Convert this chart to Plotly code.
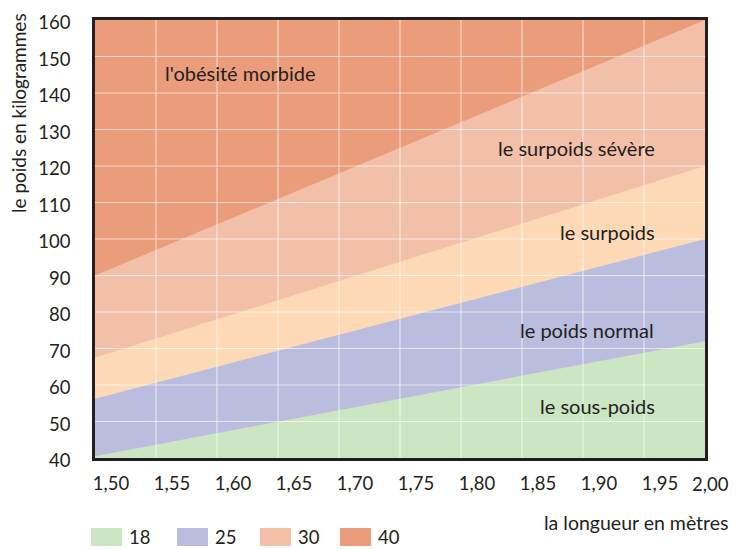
import plotly.graph_objects as go

# Data (straight boundary lines between heights 1.50 and 2.00 m)
heights = [1.50, 2.00]
bmi18 = [40.5, 72.0]
bmi25 = [56.25, 100.0]
bmi30 = [67.5, 120.0]
bmi40 = [90.0, 160.0]

x_ticks = [1.50, 1.55, 1.60, 1.65, 1.70, 1.75, 1.80, 1.85, 1.90, 1.95, 2.00]
x_ticktext = ["1,50", "1,55", "1,60", "1,65", "1,70", "1,75", "1,80", "1,85", "1,90", "1,95", "2,00"]
y_ticks = [40, 50, 60, 70, 80, 90, 100, 110, 120, 130, 140, 150, 160]

zone_labels = ["l'obésité morbide", "le surpoids sévère", "le surpoids", "le poids normal", "le sous-poids"]
zone_x = [1.619, 1.895, 1.92, 1.903, 1.912]
zone_y = [145.5, 124.9, 101.9, 75.1, 54.2]

legend_labels = ["18", "25", "30", "40"]

C_GREEN = "#cce5c3"
C_BLUE = "#babddd"
C_PEACH = "#fddab5"
C_LSALMON = "#f2c0a8"
C_DSALMON = "#eb9c7b"
TXT = "#231f20"
FONT = "Lato"
FS = 20
TFS = 18.5

# page body has an 8px margin: size the figure so the plot lands where the reference has it
OFF = 8
W, H = 740 - OFF, 549 - OFF
ml, mr, mt, mb = 95 - OFF, 35, 20 - OFF, 91
pw, ph = W - ml - mr, H - mt - mb


def px2paper_x(px):
    return (px - OFF - ml) / pw


def px2paper_y(py):
    return (H - mb - (py - OFF)) / ph


fig = go.Figure()
for y, c in [(bmi40, C_LSALMON), (bmi30, C_PEACH), (bmi25, C_BLUE), (bmi18, C_GREEN)]:
    fig.add_trace(go.Scatter(x=heights, y=y, mode="lines", line=dict(width=0, color=c),
                             fill="tozeroy", fillcolor=c, showlegend=False, hoverinfo="skip"))

shapes = []
for xv in x_ticks[1:-1]:
    shapes.append(dict(type="line", xref="x", yref="y", x0=xv, x1=xv, y0=y_ticks[0], y1=y_ticks[-1],
                       line=dict(color="rgba(255,255,255,0.6)", width=1.2), layer="above"))
for yv in y_ticks[1:-1]:
    shapes.append(dict(type="line", xref="x", yref="y", x0=x_ticks[0], x1=x_ticks[-1], y0=yv, y1=yv,
                       line=dict(color="rgba(255,255,255,0.6)", width=1.2), layer="above"))

annotations = []
for t, xv, yv in zip(zone_labels, zone_x, zone_y):
    annotations.append(dict(x=xv, y=yv, xref="x", yref="y", text=t, showarrow=False,
                            font=dict(family=FONT, size=FS, color=TXT)))

# last x tick label drawn as an annotation so it stays inside the page's visible width
annotations.append(dict(x=x_ticks[-1], xref="x", y=px2paper_y(484), yref="paper",
                        text=x_ticktext[-1], showarrow=False, xanchor="right", yanchor="middle",
                        xshift=26, font=dict(family=FONT, size=TFS, color=TXT)))

# legend (custom boxes)
leg_colors = [C_GREEN, C_BLUE, C_LSALMON, C_DSALMON]
leg_x0 = [91, 177, 260, 340]
for lab, c, x0 in zip(legend_labels, leg_colors, leg_x0):
    shapes.append(dict(type="rect", xref="paper", yref="paper",
                       x0=px2paper_x(x0), x1=px2paper_x(x0 + 31),
                       y0=px2paper_y(546), y1=px2paper_y(528),
                       fillcolor=c, line=dict(width=0)))
    annotations.append(dict(xref="paper", yref="paper", x=px2paper_x(x0 + 36), y=px2paper_y(537),
                            xanchor="left", yanchor="middle", text=lab, showarrow=False,
                            font=dict(family=FONT, size=TFS, color=TXT)))

annotations.append(dict(xref="paper", yref="paper", x=px2paper_x(731), y=px2paper_y(522),
                        xanchor="right", yanchor="middle", text="la longueur en mètres", showarrow=False,
                        font=dict(family=FONT, size=19.5, color=TXT)))
annotations.append(dict(xref="paper", yref="paper", x=px2paper_x(19), y=px2paper_y(113),
                        xanchor="center", yanchor="middle", text="le poids en kilogrammes", showarrow=False,
                        textangle=-90, font=dict(family=FONT, size=19, color=TXT)))

fig.update_layout(
    width=W, height=H,
    margin=dict(l=ml, r=mr, t=mt, b=mb, autoexpand=False),
    paper_bgcolor="white",
    plot_bgcolor=C_DSALMON,
    shapes=shapes,
    annotations=annotations,
    showlegend=False,
    font=dict(family=FONT, size=FS, color=TXT),
)
fig.update_xaxes(range=[1.50, 2.00], tickvals=x_ticks[:-1], ticktext=x_ticktext[:-1], showgrid=False,
                 zeroline=False, showline=True, mirror=True, linecolor=TXT, linewidth=2.5,
                 ticks="", ticklabelshift=16, ticklabelstandoff=7, automargin=False,
                 ticklabeloverflow="allow",
                 tickfont=dict(family=FONT, size=TFS, color=TXT))
fig.update_yaxes(range=[40, 160], tickvals=y_ticks, showgrid=False, zeroline=False,
                 showline=True, mirror=True, linecolor=TXT, linewidth=2.5, ticks="",
                 ticklabelstandoff=18, ticklabelshift=3, automargin=False,
                 ticklabeloverflow="allow",
                 tickfont=dict(family=FONT, size=TFS, color=TXT))

fig.write_html("out.html")
